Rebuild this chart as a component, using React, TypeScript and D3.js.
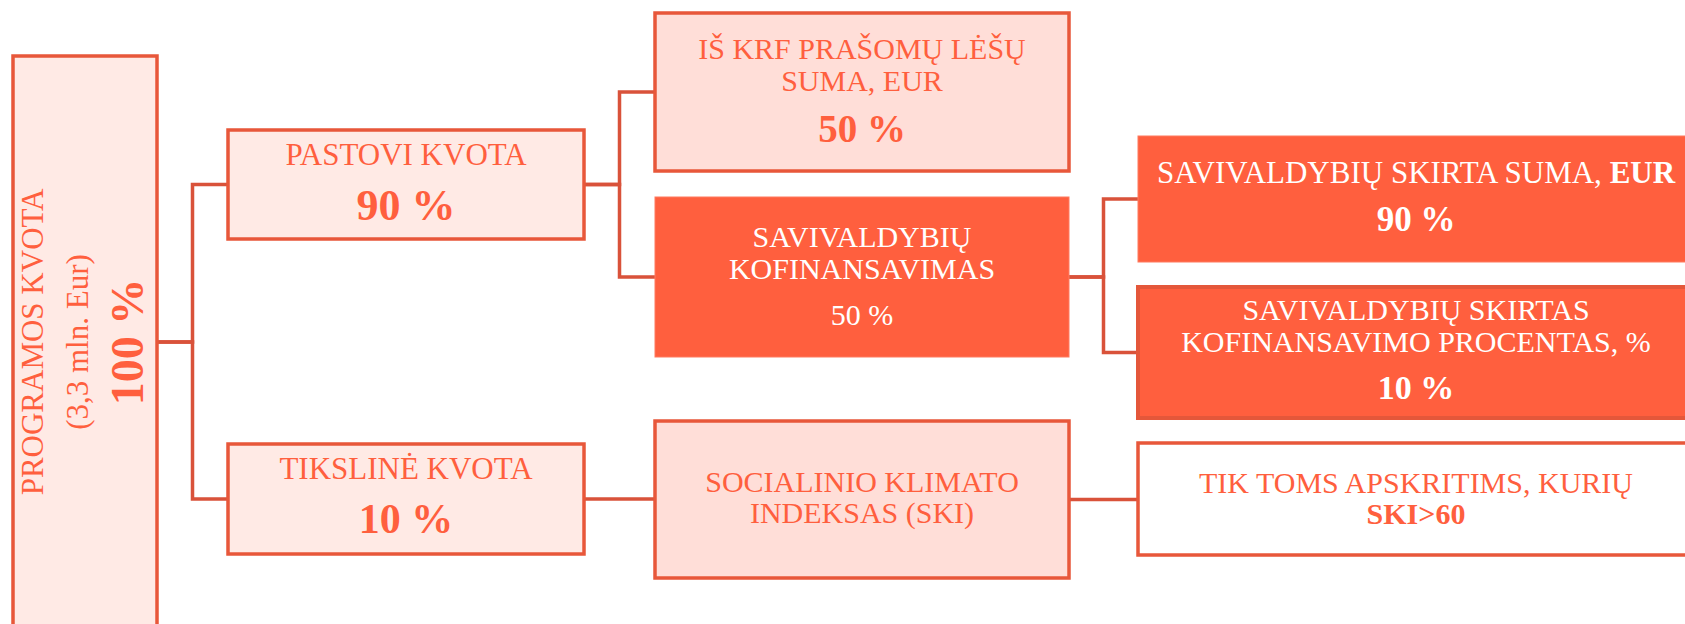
import React from 'react';
import * as d3 from 'd3';

// Tree nodes: id, parent, title lines and the value line
const nodeIds = ['root', 'pastovi', 'tiksline', 'krf', 'kof', 'suma', 'procentas', 'ski', 'tik'];
const nodeParents = ['', 'root', 'root', 'pastovi', 'pastovi', 'kof', 'kof', 'tiksline', 'ski'];
const nodeTitles = [
  ['PROGRAMOS KVOTA', '(3,3 mln. Eur)'],
  ['PASTOVI KVOTA'],
  ['TIKSLINĖ KVOTA'],
  ['IŠ KRF PRAŠOMŲ LĖŠŲ', 'SUMA, EUR'],
  ['SAVIVALDYBIŲ', 'KOFINANSAVIMAS'],
  ['SAVIVALDYBIŲ SKIRTA SUMA, |EUR'],
  ['SAVIVALDYBIŲ SKIRTAS', 'KOFINANSAVIMO PROCENTAS, %'],
  ['SOCIALINIO KLIMATO', 'INDEKSAS (SKI)'],
  ['TIK TOMS APSKRITIMS, KURIŲ'],
];
const nodeValues = ['100 %', '90 %', '10 %', '50 %', '50 %', '90 %', '10 %', '', 'SKI>60'];
const nodeKinds = ['light', 'light', 'light', 'pink', 'solid', 'solid', 'solidEdge', 'pink', 'white'];

// Geometry of the diagram (kept apart from the data)
const columnLeft = d3.scaleOrdinal<number, number>().domain([0, 1, 2, 3]).range([13, 228, 655, 1138]);
const columnWidth = d3.scaleOrdinal<number, number>().domain([0, 1, 2, 3]).range([144, 356, 414, 556]);
const rowLayout: Record<string, { top: number; height: number; lines: number[]; titleSize: number; value: number; valueSize: number; valueBold: boolean }> = {
  root: { top: 56, height: 572, lines: [43, 88], titleSize: 31, value: 143, valueSize: 46, valueBold: true },
  pastovi: { top: 130, height: 109, lines: [35], titleSize: 31, value: 90, valueSize: 44, valueBold: true },
  tiksline: { top: 444, height: 110, lines: [35], titleSize: 31, value: 89, valueSize: 42, valueBold: true },
  krf: { top: 13, height: 158, lines: [46, 78], titleSize: 30, value: 129, valueSize: 39, valueBold: true },
  kof: { top: 197, height: 160, lines: [50, 82], titleSize: 30, value: 128, valueSize: 30, valueBold: false },
  suma: { top: 136, height: 126, lines: [47], titleSize: 31, value: 95, valueSize: 35, valueBold: true },
  procentas: { top: 287, height: 131, lines: [33, 65], titleSize: 30, value: 112, valueSize: 34, valueBold: true },
  ski: { top: 421, height: 157, lines: [71, 102], titleSize: 30, value: 0, valueSize: 31, valueBold: true },
  tik: { top: 443, height: 112, lines: [50], titleSize: 30, value: 81, valueSize: 30, valueBold: true },
};

const ACCENT = '#FF5F3E';
const BORDER = '#E8573A';
const LINK = '#D9523A';
const fills: Record<string, string> = {
  light: '#FFEAE5',
  pink: '#FFDED8',
  solid: ACCENT,
  solidEdge: ACCENT,
  white: '#FFFFFF',
};

const FONT = '"Liberation Serif", "Times New Roman", serif';

export default function App() {
  const rows = nodeIds.map((id, i) => ({
    id,
    parent: nodeParents[i] || null,
    titles: nodeTitles[i],
    value: nodeValues[i],
    kind: nodeKinds[i],
  }));

  const root = d3
    .stratify<typeof rows[number]>()
    .id((d) => d.id)
    .parentId((d) => d.parent)(rows);

  const boxes = root.descendants().map((n) => {
    const r = rowLayout[n.data.id];
    const x = columnLeft(n.depth);
    const w = columnWidth(n.depth);
    return { node: n, x, y: r.top, w, h: r.height, cx: x + w / 2, cy: r.top + r.height / 2, r };
  });
  const byId = new Map(boxes.map((b) => [b.node.data.id, b]));

  // elbow connectors; an only child gets a straight line
  const links = root.links().map(({ source, target }) => {
    const s = byId.get(source.data.id)!;
    const t = byId.get(target.data.id)!;
    const x0 = s.x + s.w;
    const x1 = t.x;
    const mx = (x0 + x1) / 2;
    const ty = (source.children || []).length === 1 ? s.cy : t.cy;
    const p = d3.path();
    p.moveTo(x0, s.cy);
    p.lineTo(mx, s.cy);
    p.lineTo(mx, ty);
    p.lineTo(x1, ty);
    return { key: `${source.data.id}-${target.data.id}`, d: p.toString() };
  });

  return (
    <div style={{ position: 'absolute', left: 0, top: 0 }}>
      <svg width={1685} height={624} style={{ display: 'block', overflow: 'hidden', background: '#fff' }} fontFamily={FONT}>
        <g fill="none" stroke={LINK} strokeWidth={3.5}>
          {links.map((l) => (
            <path key={l.key} d={l.d} />
          ))}
        </g>
        {boxes.map((b) => {
          const { kind, titles, value, id } = b.node.data as any;
          const solid = kind === 'solid' || kind === 'solidEdge';
          const textColor = solid ? '#FFFFFF' : ACCENT;
          const stroke = kind === 'solid' ? '#FF7A5E' : kind === 'solidEdge' ? '#E4573A' : BORDER;
          const sw = kind === 'solid' ? 1 : kind === 'solidEdge' ? 4 : 3.5;
          const isRoot = id === 'root';
          const lines = titles.map((t: string, i: number) => {
            const parts = t.split('|');
            return (
              <text key={i} x={isRoot ? 0 : b.cx} y={isRoot ? b.r.lines[i] : b.y + b.r.lines[i]} textAnchor="middle" fontSize={b.r.titleSize} fill={textColor}>
                {parts[0]}
                {parts[1] && <tspan fontWeight="bold">{parts[1]}</tspan>}
              </text>
            );
          });
          const valueText = value ? (
            <text
              x={isRoot ? 0 : b.cx}
              y={isRoot ? b.r.value : b.y + b.r.value}
              textAnchor="middle"
              fontSize={b.r.valueSize}
              fontWeight={b.r.valueBold ? 'bold' : 'normal'}
              fill={textColor}
            >
              {value}
            </text>
          ) : null;
          return (
            <g key={id}>
              <rect x={b.x} y={b.y} width={b.w} height={b.h} fill={fills[kind]} stroke={stroke} strokeWidth={sw} />
              {isRoot ? (
                <g transform={`translate(0, ${b.cy}) rotate(-90)`}>
                  {lines}
                  {valueText}
                </g>
              ) : (
                <g>
                  {lines}
                  {valueText}
                </g>
              )}
            </g>
          );
        })}
      </svg>
    </div>
  );
}
